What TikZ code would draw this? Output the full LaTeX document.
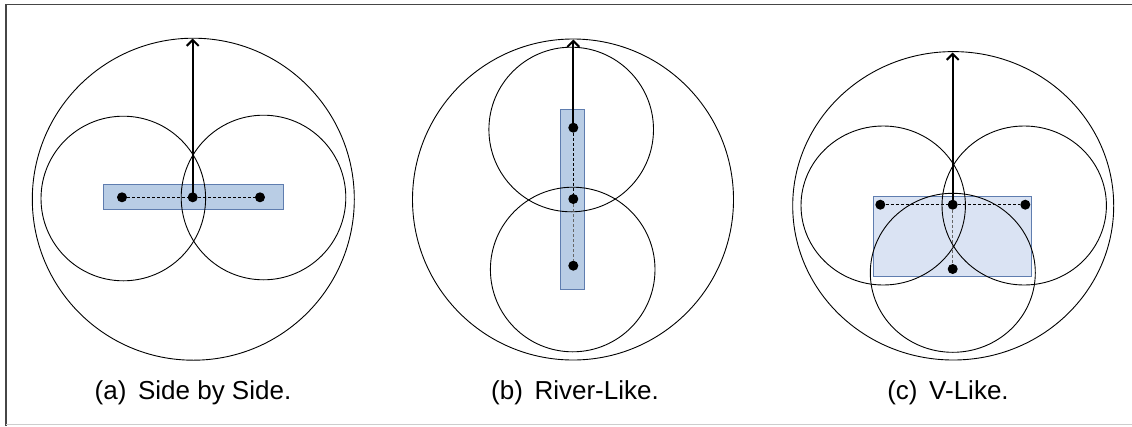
\documentclass[tikz,border=0pt]{standalone}
\usepackage{fontspec}
\setmainfont{Liberation Sans}
\usetikzlibrary{arrows.meta}
\definecolor{boxfill}{RGB}{185,205,229}
\definecolor{boxfilllight}{RGB}{218,227,243}
\definecolor{boxline}{RGB}{95,125,175}
\definecolor{framedark}{RGB}{70,70,70}
\definecolor{framelight}{RGB}{205,205,205}
\begin{document}
\begin{tikzpicture}[x=1pt,y=-1pt,
  ring/.style={draw=black,line width=0.9pt},
  dotnode/.style={circle,fill=black,inner sep=0pt,minimum size=10pt},
  bluebox/.style={fill=boxfill,draw=boxline,line width=0.9pt},
  lightbox/.style={fill=boxfilllight,draw=boxline,line width=0.9pt},
  link/.style={draw=black,dashed,dash pattern=on 3pt off 2pt,line width=0.8pt},
  greylink/.style={draw=black!60,dashed,dash pattern=on 3pt off 2pt,line width=0.8pt},
  arrowline/.style={draw=black,line width=2.2pt,-{Straight Barb[length=6pt,width=12pt,line width=2pt]}},
  caption/.style={anchor=base,font=\fontsize{26}{31}\selectfont,inner sep=0pt}]
\useasboundingbox (0,0) rectangle (1132,426);
% frame
\draw[framedark,line width=1.6pt] (6,426) -- (6,4.5) -- (1132,4.5);
\draw[framelight,line width=1.6pt] (6,424.5) -- (1132,424.5);

% ---------- (a) Side by Side ----------
\filldraw[bluebox] (103.3,184.3) rectangle (283.3,209.3);
\draw[ring] (193.3,199.2) circle[x radius=161pt,y radius=161pt];
\draw[ring] (123.3,198.5) circle[x radius=82.3pt,y radius=82.3pt];
\draw[ring] (263.5,197.5) circle[x radius=82.3pt,y radius=82.3pt];
\node[dotnode] (aL) at (122,197.3) {};
\node[dotnode] (aM) at (192.7,197.3) {};
\node[dotnode] (aR) at (260,197.3) {};
\coordinate (aT) at (192.7,38.5);
\draw[link] (aL) -- (aM);
\draw[link] (aM) -- (aR);
\draw[arrowline] (aM.center) -- (aT);
\node[caption] (capa) at (193,399) {(a)\, Side by Side.};

% ---------- (b) River-Like ----------
\filldraw[bluebox] (560.3,109.3) rectangle (584.7,289.3);
\draw[ring] (573,199.5) circle[x radius=160.5pt,y radius=160.5pt];
\draw[ring] (571.2,129.5) circle[x radius=82.3pt,y radius=82.3pt];
\draw[ring] (572.7,269.5) circle[x radius=82.3pt,y radius=82.3pt];
\node[dotnode] (bT) at (573.3,127.7) {};
\node[dotnode] (bM) at (573.3,199) {};
\node[dotnode] (bB) at (573.3,265.7) {};
\coordinate (bA) at (573.3,39.5);
\draw[link] (bT) -- (bM);
\draw[greylink] (bM) -- (bB);
\draw[arrowline] (bT.center) -- (bA);
\node[caption] (capb) at (575,399) {(b)\, River-Like.};

% ---------- (c) V-Like ----------
\filldraw[lightbox] (873,196) rectangle (1031.3,276.7);
\draw[ring] (953.2,205.8) circle[x radius=160.5pt,y radius=154.2pt];
\draw[ring] (883.2,205.5) circle[x radius=82.2pt,y radius=79.5pt];
\draw[ring] (1024.2,205.5) circle[x radius=82.2pt,y radius=79.5pt];
\draw[ring] (952.8,272.8) circle[x radius=82.5pt,y radius=79.5pt];
\node[dotnode] (cL) at (880.3,204.7) {};
\node[dotnode] (cM) at (952.7,204.7) {};
\node[dotnode] (cR) at (1025.3,204.7) {};
\node[dotnode] (cB) at (952.7,269) {};
\coordinate (cA) at (952.7,52.5);
\draw[link] (cL) -- (cM);
\draw[link] (cM) -- (cR);
\draw[greylink] (cM) -- (cB);
\draw[arrowline] (cM.center) -- (cA);
\node[caption] (capc) at (948,399) {(c)\, V-Like.};
\end{tikzpicture}
\end{document}
